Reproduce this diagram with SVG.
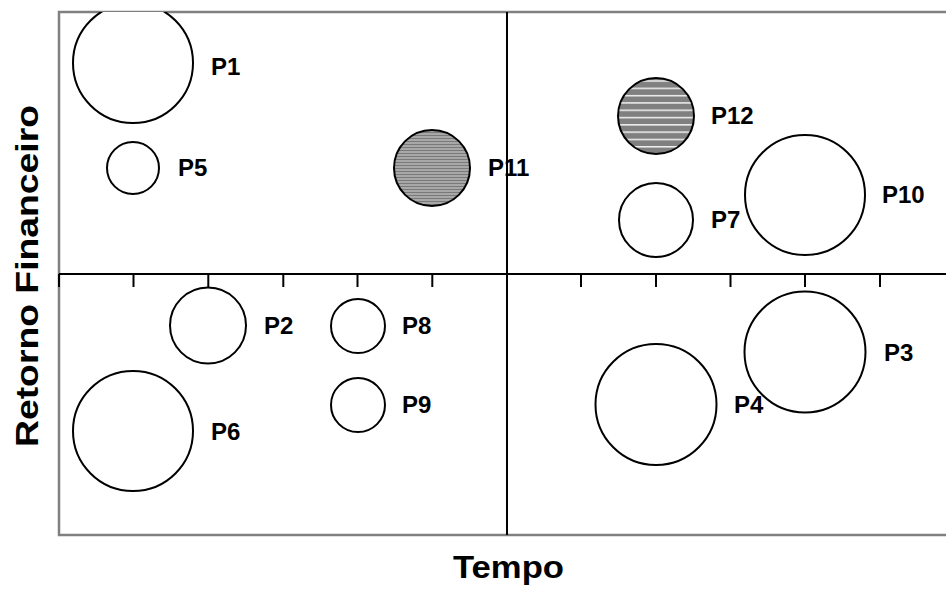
<svg xmlns="http://www.w3.org/2000/svg" width="946" height="590" viewBox="0 0 946 590">
<style>
.b{fill:#fff;stroke:#000;stroke-width:2}
.lbl{font-family:"Liberation Sans",Arial,sans-serif;font-weight:bold;font-size:24px;fill:#000}
.ax{stroke:#000;stroke-width:2;fill:none}
</style>
<defs>
<pattern id="h1" width="4" height="3" patternUnits="userSpaceOnUse">
<rect width="4" height="3" fill="#a8a8a8"/>
<rect width="4" height="1" fill="#7a7a7a"/>
</pattern>
<pattern id="h2" width="4" height="7.3" patternUnits="userSpaceOnUse">
<rect width="4" height="7.3" fill="#808080"/>
<rect width="4" height="1.5" fill="#f0f0f0"/>
</pattern>
<clipPath id="plot"><rect x="59" y="12" width="887" height="523"/></clipPath>
</defs>
<rect x="0" y="0" width="946" height="590" fill="#fff"/>
<path d="M946 12H59V535H946" fill="none" stroke="#808080" stroke-width="2.5"/>
<g id="axes" class="ax">
<path d="M507 12V535M59 274H946"/>
<path d="M59 274v13M133.5 274v13M208.3 274v13M283.3 274v13M357.5 274v13M432.3 274v13M581 274v13M656 274v13M730.5 274v13M805 274v13M880 274v13"/>
</g>
<g clip-path="url(#plot)">
<g id="P1"><circle class="b" cx="133" cy="63" r="60"/><text class="lbl" x="211" y="75">P1</text></g>
</g>
<g id="P5"><circle class="b" cx="133" cy="168" r="26"/><text class="lbl" x="178" y="176">P5</text></g>
<g id="P11"><circle cx="432" cy="168" r="38" fill="url(#h1)" stroke="#000" stroke-width="2"/><text class="lbl" x="488" y="176">P11</text></g>
<g id="P12"><circle cx="656" cy="116" r="38" fill="url(#h2)" stroke="#000" stroke-width="2"/><text class="lbl" x="711" y="124">P12</text></g>
<g id="P7"><circle class="b" cx="656" cy="220" r="37"/><text class="lbl" x="711" y="228">P7</text></g>
<g id="P10"><circle class="b" cx="805" cy="195" r="60"/><text class="lbl" x="882" y="203">P10</text></g>
<g id="P2"><circle class="b" cx="208" cy="325.5" r="38"/><text class="lbl" x="264" y="334">P2</text></g>
<g id="P8"><circle class="b" cx="358" cy="326" r="27"/><text class="lbl" x="402" y="334">P8</text></g>
<g id="P9"><circle class="b" cx="358" cy="405" r="27"/><text class="lbl" x="402" y="413">P9</text></g>
<g id="P6"><circle class="b" cx="133" cy="431" r="60"/><text class="lbl" x="211" y="440">P6</text></g>
<g id="P4"><circle class="b" cx="656" cy="404.5" r="60.5"/><text class="lbl" x="734" y="413">P4</text></g>
<g id="P3"><circle class="b" cx="805" cy="352" r="60.5"/><text class="lbl" x="884" y="361">P3</text></g>
<text x="508.5" y="578" text-anchor="middle" font-family="Liberation Sans, Arial, sans-serif" font-weight="bold" font-size="32" textLength="111" lengthAdjust="spacingAndGlyphs">Tempo</text>
<text transform="translate(38 276) rotate(-90)" text-anchor="middle" font-family="Liberation Sans, Arial, sans-serif" font-weight="bold" font-size="32" textLength="342" lengthAdjust="spacingAndGlyphs">Retorno Financeiro</text>
</svg>
